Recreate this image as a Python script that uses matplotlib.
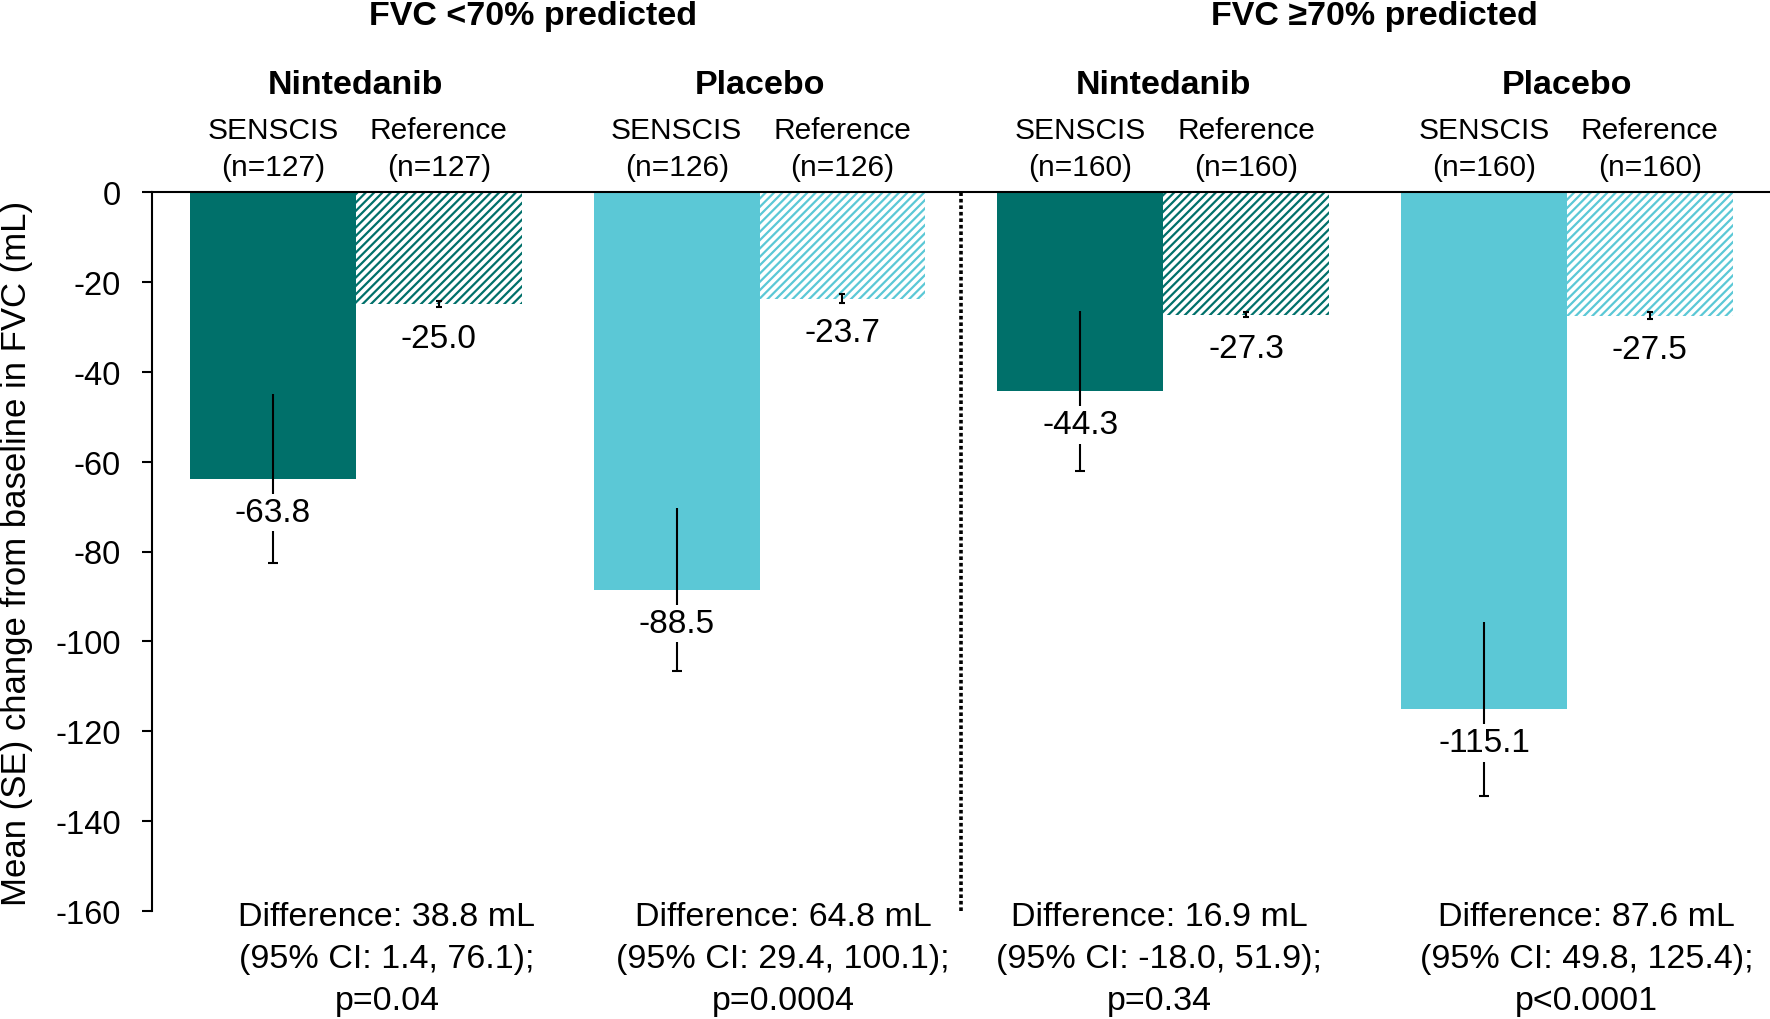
import numpy as np
import matplotlib
matplotlib.use("Agg")
import matplotlib.pyplot as plt

plt.rcParams['font.family'] = ['Liberation Sans', 'DejaVu Sans']
plt.rcParams['axes.unicode_minus'] = False
plt.rcParams['hatch.linewidth'] = 1.6

# ---- data ----
subgroups = ['FVC <70% predicted', 'FVC \u226570% predicted']
treatments = ['Nintedanib', 'Placebo', 'Nintedanib', 'Placebo']
n_senscis = [127, 126, 160, 160]
n_reference = [127, 126, 160, 160]
senscis_mean = [-63.8, -88.5, -44.3, -115.1]
senscis_se = [18.8, 18.1, 17.8, 19.4]
reference_mean = [-25.0, -23.7, -27.3, -27.5]
reference_se = [0.7, 0.9, 0.6, 0.7]
differences = [
    ['Difference: 38.8 mL', '(95% CI: 1.4, 76.1);', 'p=0.04'],
    ['Difference: 64.8 mL', '(95% CI: 29.4, 100.1);', 'p=0.0004'],
    ['Difference: 16.9 mL', '(95% CI: -18.0, 51.9);', 'p=0.34'],
    ['Difference: 87.6 mL', '(95% CI: 49.8, 125.4);', 'p<0.0001'],
]
yticks = [0, -20, -40, -60, -80, -100, -120, -140, -160]

# ---- styling ----
DARK = '#00706A'
LIGHT = '#5BC8D6'
group_colors = [DARK, LIGHT, DARK, LIGHT]

fig = plt.figure(figsize=(17.7, 10.2), dpi=100)
ax = fig.add_axes([152 / 1770, 1 - 912 / 1020, 1618 / 1770, 719 / 1020])

gap = 2.435
centers = np.arange(4) * gap
x_s = centers - 0.5
x_r = centers + 0.5

ax.bar(x_s, senscis_mean, width=1.0, color=group_colors, linewidth=0, zorder=1)
for xr, m, c in zip(x_r, reference_mean, group_colors):
    ax.bar(xr, m, width=1.0, facecolor='white', edgecolor=c, hatch='////',
           linewidth=0, zorder=1)

# error bars
sm = np.array(senscis_mean)
ss = np.array(senscis_se)
ax.vlines(x_s, sm - ss, sm + ss, color='black', lw=1.5, zorder=2)
ax.plot(x_s, sm - ss, ls='none', marker='_', ms=7, mew=1.5, color='black', zorder=2)
ax.errorbar(x_r, reference_mean, yerr=reference_se, fmt='none', ecolor='black',
            elinewidth=1.5, capsize=2.5, capthick=1.5, zorder=2)

# value labels
for x, m in zip(list(x_s) + list(x_r), senscis_mean + reference_mean):
    ax.text(x, m - 7.5, f'{m:.1f}', ha='center', va='center', fontsize=24,
            bbox=dict(boxstyle='square,pad=0.1', fc='white', ec='none'), zorder=3)

# separator
ax.vlines(1.5 * gap, -160, 0, color='black', linestyles=(0, (1, 0.8)), lw=2.6, zorder=2)

# headers
for i, c in enumerate(centers):
    ax.text(c, 24.0, treatments[i], ha='center', va='center', fontsize=24.5,
            fontweight='bold', clip_on=False)
    ax.text(c - 0.5, 13.8, 'SENSCIS', ha='center', va='center', fontsize=21.5, clip_on=False)
    ax.text(c + 0.5, 13.8, 'Reference', ha='center', va='center', fontsize=21.5, clip_on=False)
    ax.text(c - 0.5, 5.5, f'(n={n_senscis[i]})', ha='center', va='center', fontsize=21.5, clip_on=False)
    ax.text(c + 0.5, 5.5, f'(n={n_reference[i]})', ha='center', va='center', fontsize=21.5, clip_on=False)

for xh, s in zip([1.068, 6.146], subgroups):
    ax.text(xh, 39.2, s, ha='center', va='center', fontsize=24.5, fontweight='bold', clip_on=False)

# differences
for xd, lines in zip([0.187, 2.576, 4.844, 7.425], differences):
    for yy, line in zip([-161.2, -170.5, -180.0], lines):
        ax.text(xd, yy, line, ha='center', va='center', fontsize=24.5, clip_on=False)

ax.set_xlim(-1.23, 8.53)
ax.set_ylim(-160, 0)
ax.set_yticks(yticks)
ax.set_yticklabels([str(t) for t in yticks])
ax.set_xticks([])
for s in ['right', 'bottom']:
    ax.spines[s].set_visible(False)
for s in ['top', 'left']:
    ax.spines[s].set_linewidth(1.5)
    ax.spines[s].set_zorder(4)
ax.tick_params(axis='y', direction='out', length=7.5, width=1.5, pad=15, labelsize=23.5)

fig.text(17 / 1770, 1 - 553 / 1020, 'Mean (SE) change from baseline in FVC (mL)',
         rotation=90, ha='center', va='center', fontsize=25)

fig.savefig('out.png', dpi=100, facecolor='white')
